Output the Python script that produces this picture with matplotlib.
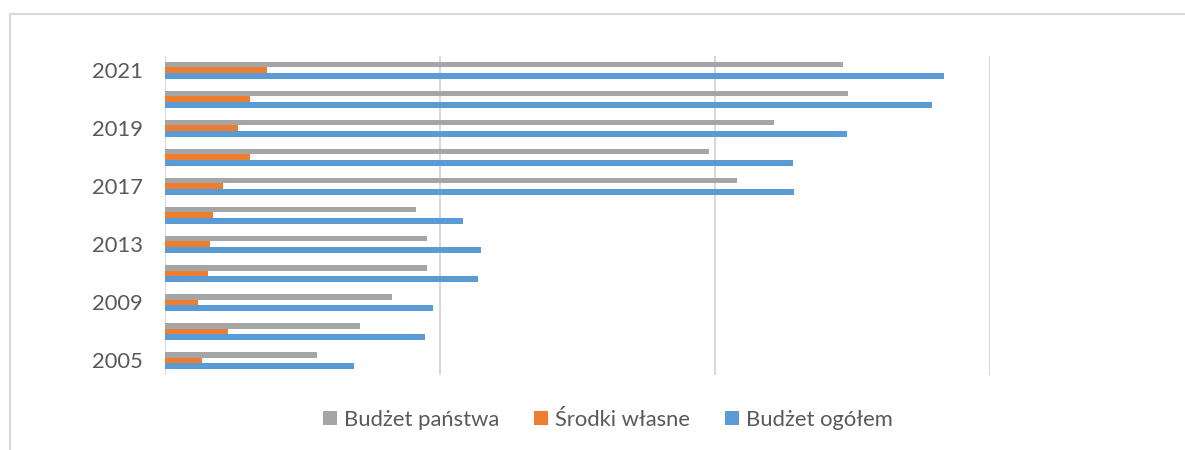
import matplotlib
matplotlib.use("Agg")
import matplotlib.pyplot as plt
from matplotlib.patches import Patch, Rectangle

# Data (values in axis units; gridlines at 1, 2, 3)
years = ["2005", "2007", "2009", "2011", "2013", "2015", "2017", "2018", "2019", "2020", "2021"]
shown_labels = ["2005", "", "2009", "", "2013", "", "2017", "", "2019", "", "2021"]
budzet_panstwa = [0.550, 0.709, 0.826, 0.953, 0.953, 0.911, 2.078, 1.976, 2.214, 2.483, 2.464]
srodki_wlasne = [0.135, 0.228, 0.120, 0.155, 0.163, 0.173, 0.210, 0.308, 0.266, 0.308, 0.369]
budzet_ogolem = [0.685, 0.943, 0.975, 1.139, 1.148, 1.084, 2.288, 2.283, 2.478, 2.790, 2.832]
series_names = ["Budżet państwa", "Środki własne", "Budżet ogółem"]
colors = ["#A5A5A5", "#ED7D31", "#5B9BD5"]

plt.rcParams['font.family'] = ['Lato', 'DejaVu Sans']

W, H = 1185, 450
fig = plt.figure(figsize=(W / 100, H / 100), dpi=100)
ax = fig.add_axes([165.3 / W, 1 - 375 / H, (990.2 - 165.3) / W, (375 - 55.7) / H])

pos = list(range(len(years)))
h = 0.2
ax.barh([p + h for p in pos], budzet_panstwa, height=h, color=colors[0])
ax.barh(pos, srodki_wlasne, height=h, color=colors[1])
ax.barh([p - h for p in pos], budzet_ogolem, height=h, color=colors[2])

ax.set_xlim(0, 3)
ax.set_ylim(-0.5, len(years) - 0.5)
ax.set_xticks([0, 1, 2, 3])
ax.set_xticklabels([])
ax.tick_params(axis='x', length=0)
ax.grid(axis='x', color='#D9D9D9', linewidth=1.5)
ax.set_axisbelow(True)
ax.set_yticks(pos)
ax.set_yticklabels(shown_labels, fontsize=15.8, color='#595959')
ax.tick_params(axis='y', length=0, pad=16)
for s in ax.spines.values():
    s.set_visible(False)

handles = [Patch(facecolor=c, edgecolor='none') for c in colors]
fig.legend(handles, series_names, loc='center', bbox_to_anchor=(608 / W, 30 / H),
           ncol=3, frameon=False, fontsize=15.8, labelcolor='#595959',
           handlelength=0.62, handleheight=0.62, handletextpad=0.33, columnspacing=1.6)

# outer chart frame (cropped on the right and bottom)
fig.patches.append(Rectangle((10 / W, -0.1), 1.2, 0.1 + (H - 13.5) / H, transform=fig.transFigure,
                             fill=False, edgecolor='#D9D9D9', linewidth=1.5))

fig.savefig("out.png", dpi=100)
